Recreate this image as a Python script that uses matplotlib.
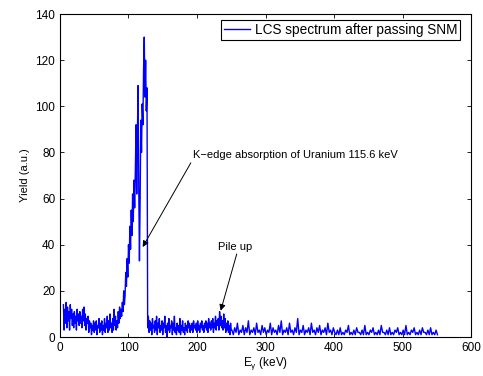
import matplotlib
matplotlib.use("Agg")
import matplotlib.pyplot as plt
import numpy as np

plt.rcParams["font.family"] = ["Liberation Sans", "DejaVu Sans"]
plt.rcParams["mathtext.fontset"] = "custom"
plt.rcParams["mathtext.rm"] = "Liberation Sans"
plt.rcParams["mathtext.it"] = "Liberation Sans"

# yields, 1 keV channels from 5 keV up to the K-edge drop
low_start = 5
low_yield = [14, 3, 12, 6, 15, 4, 13, 7, 11, 3, 14, 8, 12, 5, 10, 4, 11, 6, 9, 3,
             12, 7, 10, 5, 11, 6, 9, 4, 12, 7, 13, 5, 10, 3, 8, 6, 9, 2, 7, 4,
             6, 1, 5, 3, 7,
             2, 6, 3, 7, 1, 5, 4, 8, 2, 6, 3, 7, 1, 5, 3, 8, 2, 6, 4, 9,
             2, 7, 3, 10, 4, 6, 2, 8, 3, 12, 5, 9, 3, 7, 4, 11, 6, 13, 8, 12]
peak_yield = [9, 15, 11, 20, 14, 18, 28, 22, 34, 26, 40, 32, 48, 38, 55, 44, 62, 50,
              68, 56, 72, 92, 62, 88, 109, 65, 33, 60, 94, 80, 101, 92, 116, 130,
              104, 120, 98, 108]
# 1 keV channels after the edge
mid_yield = [4, 9, 2, 7, 3, 6, 1, 8, 4, 5, 2, 7, 3, 9, 1, 6, 4, 8, 2, 5, 3, 7, 1, 6,
             4, 9, 2, 5, 0, 6, 3, 8, 2, 5, 4, 7, 1, 6, 3, 9, 2, 4, 1, 6, 3, 5, 2, 8,
             1, 5, 3, 7, 2, 4, 1, 6, 3, 5, 2, 7, 4, 6, 2, 5, 3, 6, 2, 7, 4, 5, 3, 6,
             2, 7, 3, 5, 2, 6, 4, 7, 3, 5, 2, 6, 4, 7, 3, 6, 2, 8, 4, 6, 3, 7, 4, 8,
             2, 6, 4, 9, 3, 7, 5, 8, 3, 11, 5, 9, 4, 7, 3, 10, 4, 8, 2, 6, 3, 7, 2,
             5, 1, 6, 3]
# 2 keV channels in the tail
tail_start = 251
tail_yield = [3, 1, 4, 2, 6, 1, 3, 2, 5, 1, 4, 2, 7, 1, 3, 2, 4, 1, 6, 2, 3, 1, 5, 2,
              4, 1, 3, 2, 6, 1, 4, 2, 3, 1, 5, 2, 7, 1, 3, 2, 4, 1, 6, 2, 3, 1, 4, 2,
              8, 1, 3, 2, 5, 1, 3, 2, 4, 1, 6, 2, 3, 1, 4, 2, 5, 1, 3, 2, 4, 1, 6, 2,
              3, 1, 4,
              2, 1, 3, 1, 4, 1, 2, 1, 3, 2, 5, 1, 2, 1, 3, 1, 4, 2, 2, 1, 3, 1, 5, 1,
              2, 1, 3, 2, 4, 1, 2, 1, 3, 1, 5, 2, 2, 1, 3, 1, 4, 1, 2, 1, 3, 2, 4, 1,
              2, 1, 3, 1, 5, 1, 2, 1, 3, 2, 4, 1, 2, 1, 3, 1, 4, 2, 2, 1, 3, 1, 4, 1,
              2, 1, 3, 1]

head = low_yield + peak_yield + mid_yield
energy = np.concatenate([low_start + np.arange(len(head)),
                         tail_start + 2 * np.arange(len(tail_yield))])
yield_au = np.array(head + tail_yield, dtype=float)

fig = plt.figure(figsize=(4.83, 3.76), dpi=100)
ax = fig.add_axes([0.1242, 0.1037, 0.851, 0.859])
ax.plot(energy, yield_au, color="#0000ff", lw=1.0, label="LCS spectrum after passing SNM")

ax.set_xlim(0, 600)
ax.set_ylim(0, 140)
ax.set_xticks(range(0, 601, 100))
ax.set_yticks(range(0, 141, 20))
ax.tick_params(direction="in", top=True, right=True, labelsize=8.5, length=3, width=0.6)
for s in ax.spines.values():
    s.set_linewidth(0.8)
ax.set_xlabel(r"E$_{\gamma}$ (keV)", fontsize=8.5, labelpad=1)
ax.set_ylabel("Yield (a.u.)", fontsize=8, labelpad=4)

leg = ax.legend(loc="upper right", bbox_to_anchor=(0.973, 0.981), borderaxespad=0,
                fontsize=9.8, fancybox=False, framealpha=1, handlelength=1.9,
                borderpad=0.2, handletextpad=0.35)
leg.get_frame().set_edgecolor("k")
leg.get_frame().set_linewidth(0.8)

arrow = dict(arrowstyle="-|>", color="k", lw=0.7, mutation_scale=9, shrinkA=0, shrinkB=0)
ax.annotate("", xy=(120.7, 39), xytext=(191, 75.5), arrowprops=arrow)
ax.text(194, 79, "K\u2212edge absorption of Uranium 115.6 keV", fontsize=8, va="center")
ax.annotate("", xy=(234.6, 11.4), xytext=(258, 36), arrowprops=arrow)
ax.text(231, 39, "Pile up", fontsize=8, va="center")

fig.savefig("out.png", dpi=100)
